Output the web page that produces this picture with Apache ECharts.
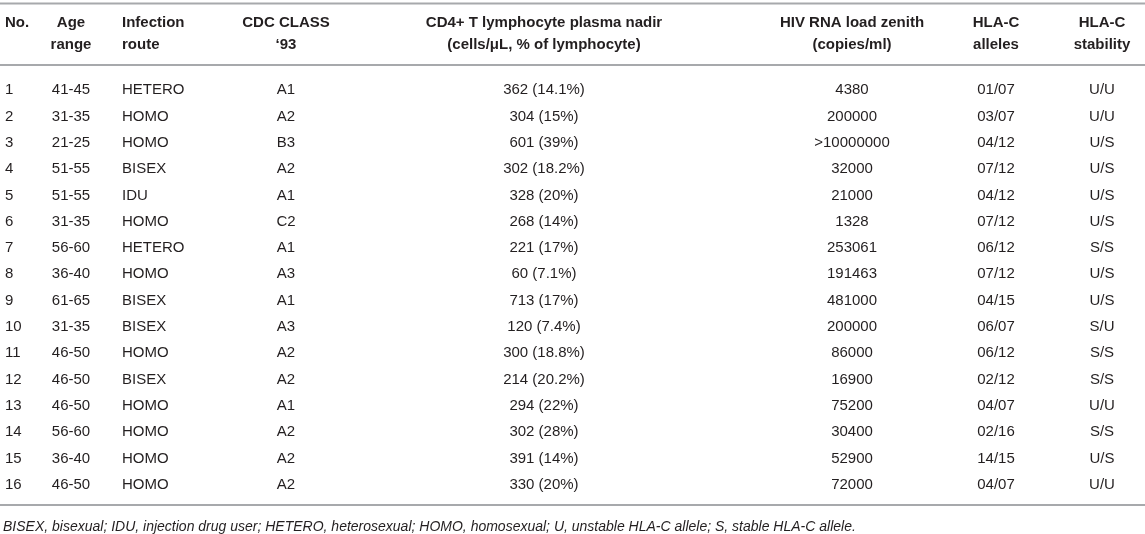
<!DOCTYPE html>
<html>
<head>
<meta charset="utf-8">
<script src="https://cdn.jsdelivr.net/npm/echarts@6/dist/echarts.min.js"></script>
<style>
  html, body { margin: 0; padding: 0; background: #fff; }
  #main { width: 1145px; height: 534px; }
</style>
</head>
<body>
<div id="main"></div>
<script>
// 表格数据
var patientNo = ['1', '2', '3', '4', '5', '6', '7', '8', '9', '10', '11', '12', '13', '14', '15', '16'];
var ageRange = ['41-45', '31-35', '21-25', '51-55', '51-55', '31-35', '56-60', '36-40', '61-65', '31-35', '46-50', '46-50', '46-50', '56-60', '36-40', '46-50'];
var infectionRoute = ['HETERO', 'HOMO', 'HOMO', 'BISEX', 'IDU', 'HOMO', 'HETERO', 'HOMO', 'BISEX', 'BISEX', 'HOMO', 'BISEX', 'HOMO', 'HOMO', 'HOMO', 'HOMO'];
var cdcClass = ['A1', 'A2', 'B3', 'A2', 'A1', 'C2', 'A1', 'A3', 'A1', 'A3', 'A2', 'A2', 'A1', 'A2', 'A2', 'A2'];
var cd4Nadir = ['362 (14.1%)', '304 (15%)', '601 (39%)', '302 (18.2%)', '328 (20%)', '268 (14%)', '221 (17%)', '60 (7.1%)', '713 (17%)', '120 (7.4%)', '300 (18.8%)', '214 (20.2%)', '294 (22%)', '302 (28%)', '391 (14%)', '330 (20%)'];
var hivRnaZenith = ['4380', '200000', '>10000000', '32000', '21000', '1328', '253061', '191463', '481000', '200000', '86000', '16900', '75200', '30400', '52900', '72000'];
var hlaAlleles = ['01/07', '03/07', '04/12', '07/12', '04/12', '07/12', '06/12', '07/12', '04/15', '06/07', '06/12', '02/12', '04/07', '02/16', '14/15', '04/07'];
var hlaStability = ['U/U', 'U/U', 'U/S', 'U/S', 'U/S', 'U/S', 'S/S', 'U/S', 'U/S', 'S/U', 'S/S', 'S/S', 'U/U', 'S/S', 'U/S', 'U/U'];
var headers = ['No.', 'Age\nrange', 'Infection\nroute', 'CDC CLASS\n\u201893', 'CD4+ T lymphocyte plasma nadir\n(cells/\u03bcL, % of lymphocyte)', 'HIV RNA load zenith\n(copies/ml)', 'HLA-C\nalleles', 'HLA-C\nstability'];
var footnote = 'BISEX, bisexual; IDU, injection drug user; HETERO, heterosexual; HOMO, homosexual; U, unstable HLA-C allele; S, stable HLA-C allele.';

(function () {
  var chart = echarts.init(document.getElementById('main'));
  var font = '"Liberation Sans", Arial, Helvetica, sans-serif';
  var textColor = '#231f20';
  var ruleColor = '#a7a9ac';

  // 列位置 (x 像素) 与对齐方式
  var columns = [
    { values: patientNo, x: 5, align: 'left' },
    { values: ageRange, x: 71, align: 'center' },
    { values: infectionRoute, x: 122, align: 'left' },
    { values: cdcClass, x: 286, align: 'center' },
    { values: cd4Nadir, x: 544, align: 'center' },
    { values: hivRnaZenith, x: 852, align: 'center' },
    { values: hlaAlleles, x: 996, align: 'center' },
    { values: hlaStability, x: 1102, align: 'center' }
  ];

  function cellSeries(col) {
    return {
      type: 'custom',
      silent: true,
      data: col.values.map(function (v, i) { return [col.x, i]; }),
      encode: { x: 0, y: 1 },
      renderItem: function (params, api) {
        var p = api.coord([api.value(0), api.value(1)]);
        return {
          type: 'text',
          x: p[0],
          y: p[1],
          style: {
            text: col.values[params.dataIndex],
            align: col.align,
            verticalAlign: 'middle',
            fontSize: 15,
            fontFamily: font,
            fill: textColor
          }
        };
      }
    };
  }

  var graphics = [];
  // 横线
  [3.5, 65, 505].forEach(function (y) {
    graphics.push({
      type: 'line',
      shape: { x1: 0, y1: y, x2: 1145, y2: y },
      style: { stroke: ruleColor, lineWidth: 2 },
      silent: true
    });
  });
  // 表头
  headers.forEach(function (h, i) {
    var col = columns[i];
    graphics.push({
      type: 'text',
      x: col.x,
      y: 12,
      style: {
        text: h,
        align: col.align,
        verticalAlign: 'top',
        fontSize: 15,
        fontWeight: 'bold',
        lineHeight: 22,
        fontFamily: font,
        fill: textColor
      },
      silent: true
    });
  });
  // 脚注
  graphics.push({
    type: 'text',
    x: 3,
    y: 527,
    style: {
      text: footnote,
      align: 'left',
      verticalAlign: 'middle',
      fontSize: 14,
      fontStyle: 'italic',
      fontFamily: font,
      fill: textColor
    },
    silent: true
  });

  var option = {
    animation: false,
    grid: { left: 0, right: 0, top: 77, bottom: 36 },
    xAxis: { type: 'value', min: 0, max: 1145, show: false },
    yAxis: { type: 'category', data: patientNo, inverse: true, show: false },
    graphic: graphics,
    series: columns.map(cellSeries)
  };
  chart.setOption(option);
  window.addEventListener('resize', function () {
    chart.resize();
  });
})();
</script>
</body>
</html>
